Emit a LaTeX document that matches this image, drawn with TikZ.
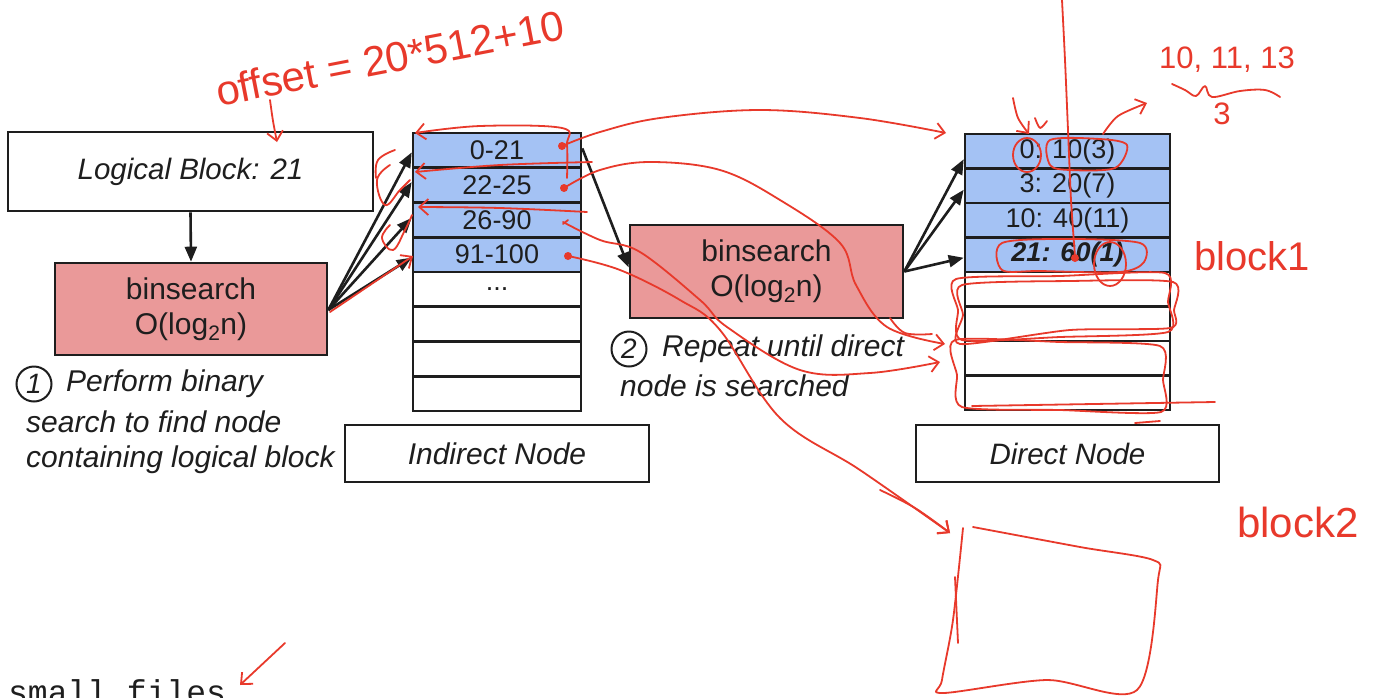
\documentclass[tikz,border=0pt]{standalone}
\usepackage{fontspec}
\setmainfont{Liberation Sans}
\setmonofont{Liberation Mono}
\usetikzlibrary{arrows.meta}
\definecolor{salmon}{HTML}{EA9999}
\definecolor{cellblue}{HTML}{A4C2F4}
\definecolor{hred}{HTML}{E8392B}
\definecolor{ink}{HTML}{1E1E1E}
\begin{document}
\begin{tikzpicture}[x=1pt,y=-1pt,
  box/.style={draw=ink, line width=2.6pt, inner sep=0pt, text=ink, font=\fontsize{30}{35}\selectfont, align=center},
  cell/.style={draw=ink, line width=2.6pt, inner sep=0pt, text=ink, font=\fontsize{27}{30}\selectfont},
  icell/.style={cell, minimum width=168pt, minimum height=34.75pt},
  dcell/.style={cell, minimum width=205pt, minimum height=34.5pt},
  num/.style={draw=ink, circle, line width=2pt, minimum size=35pt, inner sep=0pt, text=ink, font=\fontsize{28}{30}\selectfont\itshape},
  note/.style={text=ink, inner sep=0pt, anchor=west, font=\fontsize{30}{32}\selectfont\itshape},
  blk/.style={draw=ink, line width=2.6pt, -{Triangle[length=15pt,width=12pt]}},
  hand/.style={draw=hred, line width=1.8pt, line cap=round, line join=round},
  harrow/.style={hand, -{Straight Barb[length=9pt,width=16pt]}},
  htext/.style={text=hred, inner sep=0pt},
  hdot/.style={fill=hred, draw=none, circle, inner sep=0pt, minimum size=8pt}
]
\useasboundingbox (0,0) rectangle (1379,697);
\fill[white] (0,0) rectangle (1379,697);

% ---------- base diagram ----------
\node[box, minimum width=365pt, minimum height=79pt, font=\fontsize{29.5}{35}\selectfont\itshape] (lb) at (190.5,171.5) {Logical Block: 21};
\node[box, fill=salmon, minimum width=272pt, minimum height=92pt] (b1) at (191,309) {binsearch\\O(log\textsubscript{2}n)};
\node[box, fill=salmon, minimum width=273pt, minimum height=93pt] (b2) at (766.5,271.5) {binsearch\\O(log\textsubscript{2}n)};

% indirect node rows
\node[icell, fill=cellblue] (i1) at (497,150.4) {0-21};
\node[icell, fill=cellblue] (i2) at (497,185.1) {22-25};
\node[icell, fill=cellblue] (i3) at (497,219.9) {26-90};
\node[icell, fill=cellblue] (i4) at (497,254.6) {91-100};
\node[icell] (i5) at (497,289.4) {...};
\node[icell] (i6) at (497,324.1) {};
\node[icell] (i7) at (497,358.9) {};
\node[icell] (i8) at (497,393.6) {};
\node[box, minimum width=304pt, minimum height=57pt, font=\fontsize{30}{35}\selectfont\itshape] (ilab) at (497,453.5) {Indirect Node};

% direct node rows
\node[dcell, fill=cellblue] (d1) at (1067.5,151.25) {0: 10(3)};
\node[dcell, fill=cellblue] (d2) at (1067.5,185.75) {3: 20(7)};
\node[dcell, fill=cellblue] (d3) at (1067.5,220.25) {10: 40(11)};
\node[dcell, fill=cellblue, font=\fontsize{27}{30}\selectfont\bfseries\itshape] (d4) at (1067.5,254.75) {21: 60(1)};
\node[dcell] (d5) at (1067.5,289.25) {};
\node[dcell] (d6) at (1067.5,323.75) {};
\node[dcell] (d7) at (1067.5,358.25) {};
\node[dcell] (d8) at (1067.5,392.75) {};
\node[box, minimum width=303pt, minimum height=57pt, font=\fontsize{29.5}{35}\selectfont\itshape] (dlab) at (1067.5,453.5) {Direct Node};

% step notes
\node[num] (n1) at (34,384) {1};
\node[note] (t1a) at (66,384) {Perform binary};
\node[note] (t1b) at (26,422) {search to find node};
\node[note] (t1c) at (26,460) {containing logical block};
\node[num] (n2) at (629,349) {2};
\node[note] (t2a) at (662,349) {Repeat until direct};
\node[note] (t2b) at (620,386) {node is searched};

% black arrows
\draw[blk] (lb.south) -- (b1.north);
\coordinate (b1o) at ([yshift=-1pt]b1.east);
\draw[blk] (b1o) -- ([yshift=-2pt]i1.west);
\draw[blk] (b1o) -- ([yshift=3pt]i2.west);
\draw[blk] (b1o) -- ([yshift=2pt]i3.west);
\draw[blk] (b1o) -- ([yshift=-3pt]i4.west);
\draw[blk] ([yshift=2pt]i1.east) -- ([yshift=4pt]b2.west);
\draw[blk] (b2.east) -- ([yshift=-8pt]d1.west);
\draw[blk] (b2.east) -- ([yshift=-4pt]d2.west);
\draw[blk] (b2.east) -- ([yshift=-3pt]d4.west);

% small files
\node[inner sep=0pt, anchor=base west, text=ink, font=\fontsize{33}{36}\selectfont\ttfamily] (sf) at (8,703) {small files};

% ---------- red hand annotations ----------
\node[htext, rotate=11, font=\fontsize{42}{44}\selectfont] (off) at (390,58) {offset = 20*512+10};
\draw[harrow] plot[smooth] coordinates {(270,100) (273,121) (277,142)};

\node[htext, font=\fontsize{31}{34}\selectfont] (nums) at (1227,60) {10, 11, 13};
\draw[hand] plot[smooth, tension=0.6] coordinates {(1172,84) (1185,90) (1196,96) (1205,86) (1212,97) (1240,91) (1265,90) (1280,97)};
\node[htext, font=\fontsize{31}{34}\selectfont] (three) at (1222,114) {3};
\node[htext, font=\fontsize{40}{42}\selectfont] (blk1) at (1252,256) {block1};
\node[htext, font=\fontsize{42}{44}\selectfont] (blk2) at (1298,522) {block2};

% marks on direct node
\draw[hand] plot[smooth] coordinates {(1062,0) (1065,60) (1068,130) (1071,200) (1075,256)};
\node[hdot] (dd) at (1075,258) {};
\draw[harrow] plot[smooth] coordinates {(1103,134) (1118,116) (1147,103)};
\draw[hand] (1027,155) ellipse (14 and 17);
\draw[hand] plot[smooth cycle, tension=0.5] coordinates {(1050,140) (1100,139) (1127,145) (1115,168) (1070,170) (1050,165)};
\draw[hand] plot[smooth cycle, tension=0.5] coordinates {(1002,243) (1070,239) (1140,243) (1144,262) (1120,272) (1040,271) (1002,270)};
\draw[hand] (1110,264) ellipse (16 and 22);
\draw[harrow] plot[smooth] coordinates {(1013,98) (1018,118) (1029,134)};
\draw[hand] plot[smooth] coordinates {(1035,118) (1040,128) (1047,121)};
% scribbled rectangles
\draw[hand] plot[smooth cycle, tension=0.4] coordinates {(956,279) (1060,276) (1165,273) (1168,302) (1168,332) (1060,337) (962,340) (958,310)};
\draw[hand] plot[smooth cycle, tension=0.4] coordinates {(962,285) (1070,281) (1173,282) (1174,310) (1170,328) (1070,330) (960,344) (963,315)};
\draw[hand] plot[smooth cycle, tension=0.4] coordinates {(955,340) (1060,342) (1160,346) (1163,380) (1161,412) (1060,410) (962,407) (957,375)};
\draw[hand] (972,406) -- (1215,402);
\draw[hand] (1135,423) -- (1160,421);

% curves from indirect rows
\node[hdot] (r1) at (562,146) {};
\draw[harrow] plot[smooth, tension=0.6] coordinates {(562,146) (600,132) (660,118) (760,110) (860,118) (946,133)};
\node[hdot] (r2) at (564,188) {};
\draw[harrow] plot[smooth, tension=0.6] coordinates {(564,188) (600,170) (650,162) (720,170) (780,200) (840,243) (856,285) (887,327) (945,344)};
\draw[hand] (563,224) -- (568,220);
\draw[harrow] plot[smooth, tension=0.6] coordinates {(563,222) (600,240) (640,252) (700,300) (727,327) (800,370) (870,373) (940,362)};
\node[hdot] (r4) at (568,256) {};
\draw[harrow] plot[smooth, tension=0.6] coordinates {(568,256) (620,270) (680,300) (720,330) (780,418) (860,470) (950,533)};
\draw[hand] plot[smooth, tension=0.6] coordinates {(890,318) (905,333) (932,334)};

% loops on indirect node
\draw[harrow] plot[smooth, tension=0.6] coordinates {(567,178) (567,145) (562,128) (480,126) (415,133)};
\draw[harrow] plot[smooth, tension=0.6] coordinates {(592,162) (500,165) (415,172)};
\draw[harrow] plot[smooth, tension=0.6] coordinates {(587,212) (500,208) (418,207)};
\draw[harrow] plot[smooth, tension=0.6] coordinates {(330,312) (370,285) (413,256)};
\draw[hand] plot[smooth, tension=0.7] coordinates {(390,165) (377,180) (385,205) (400,190) (410,180)};
\draw[hand] plot[smooth, tension=0.7] coordinates {(390,225) (382,238) (393,250) (405,230) (412,215)};
\draw[hand] plot[smooth, tension=0.7] coordinates {(395,150) (378,160) (376,178)};

% block2 drawing
\draw[harrow] plot[smooth, tension=0.6] coordinates {(880,490) (915,508) (950,533)};
\draw[hand] plot[smooth, tension=0.5] coordinates {(973,527) (1080,547) (1153,560) (1158,580) (1137,690) (1047,680) (943,693) (942,680) (953,620) (963,528)};
\draw[hand] (955,577) -- (958,643);

% small files arrow
\draw[harrow] (285,643) -- (240,685);
\end{tikzpicture}
\end{document}
